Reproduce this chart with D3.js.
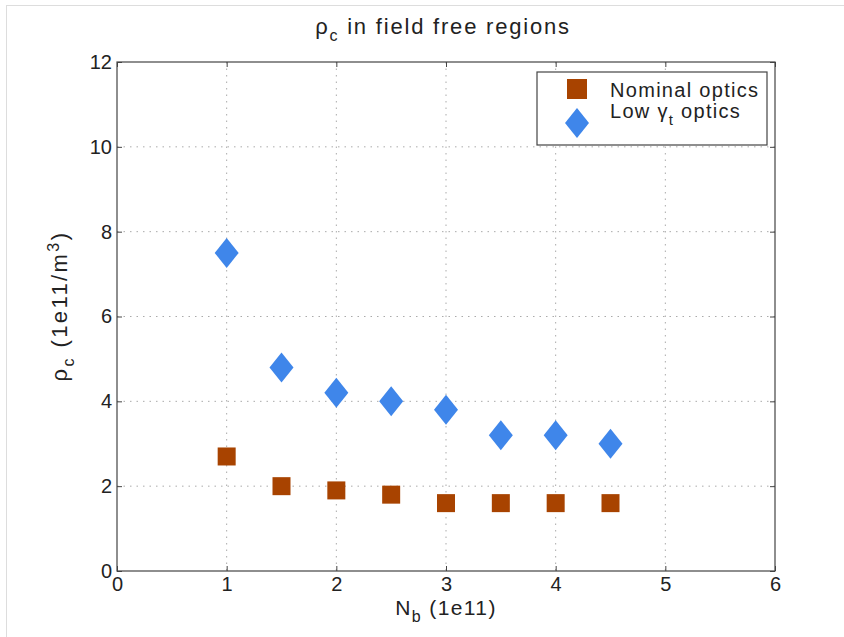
<!DOCTYPE html>
<html>
<head>
<meta charset="utf-8">
<script src="https://cdn.jsdelivr.net/npm/d3@7"></script>
<style>
  body { margin: 0; background: #fff; }
  text { font-family: "Liberation Sans", Arial, sans-serif; fill: #222; }
</style>
</head>
<body>
<svg id="chart" width="844" height="637"></svg>
<script>
// bunch intensity (1e11)
const nb = [1, 1.5, 2, 2.5, 3, 3.5, 4, 4.5];
// rho_c values (1e11/m^3)
const nominal = [2.7, 2.0, 1.9, 1.8, 1.6, 1.6, 1.6, 1.6];
const lowGammaT = [7.5, 4.8, 4.2, 4.0, 3.8, 3.2, 3.2, 3.0];
const xTicks = [0, 1, 2, 3, 4, 5, 6];
const yTicks = [0, 2, 4, 6, 8, 10, 12];

const svg = d3.select("#chart");
const margin = {top: 62, right: 69, bottom: 66, left: 117};
const width = 844 - margin.left - margin.right,
      height = 637 - margin.top - margin.bottom;

// frame lines of the figure
svg.append("line").attr("x1", 6.5).attr("x2", 6.5).attr("y1", 5).attr("y2", 637)
  .attr("stroke", "#ddd");
svg.append("line").attr("x1", 6).attr("x2", 844).attr("y1", 5.5).attr("y2", 5.5)
  .attr("stroke", "#ddd");

const g = svg.append("g").attr("transform", `translate(${margin.left},${margin.top})`);

const x = d3.scaleLinear().domain([0, 6]).range([0, width]);
const y = d3.scaleLinear().domain([0, 12]).range([height, 0]);

// dotted grid
g.append("g").selectAll("line").data(xTicks.slice(1, -1)).join("line")
  .attr("x1", d => x(d)).attr("x2", d => x(d)).attr("y1", 0).attr("y2", height)
  .attr("stroke", "#aaa").attr("stroke-dasharray", "1.5,5");
g.append("g").selectAll("line").data(yTicks.slice(1, -1)).join("line")
  .attr("y1", d => y(d)).attr("y2", d => y(d)).attr("x1", 0).attr("x2", width)
  .attr("stroke", "#aaa").attr("stroke-dasharray", "1.5,5");

// axes, ticks inward, mirrored on top / right
const styleAxis = sel => {
  sel.select(".domain").remove();
  sel.selectAll("line").attr("stroke", "#444");
  sel.selectAll("text").style("font-size", "20px").attr("fill", "#222");
};
g.append("g").attr("transform", `translate(0,${height})`)
  .call(d3.axisBottom(x).tickValues(xTicks).tickFormat(d3.format("d")).tickSizeInner(-5).tickPadding(6))
  .call(styleAxis);
g.append("g")
  .call(d3.axisTop(x).tickValues(xTicks).tickFormat("").tickSizeInner(-5))
  .call(styleAxis);
g.append("g")
  .call(d3.axisLeft(y).tickValues(yTicks).tickFormat(d3.format("d")).tickSizeInner(-5).tickPadding(5))
  .call(styleAxis);
g.append("g").attr("transform", `translate(${width},0)`)
  .call(d3.axisRight(y).tickValues(yTicks).tickFormat("").tickSizeInner(-5))
  .call(styleAxis);

g.append("rect").attr("width", width).attr("height", height)
  .attr("fill", "none").attr("stroke", "#444").attr("stroke-width", 1.2);

// markers
const sq = 18;
g.append("g").selectAll("rect").data(nb).join("rect")
  .attr("x", d => x(d) - sq / 2)
  .attr("y", (d, i) => y(nominal[i]) - sq / 2)
  .attr("width", sq).attr("height", sq)
  .attr("fill", "#a84300");

const diamond = (cx, cy) => `M${cx},${cy - 15}L${cx + 12},${cy}L${cx},${cy + 15}L${cx - 12},${cy}Z`;
g.append("g").selectAll("path").data(nb).join("path")
  .attr("d", (d, i) => diamond(x(d), y(lowGammaT[i])))
  .attr("fill", "#3f86ea");

// legend
const lg = g.append("g").attr("transform", `translate(${420},${10})`);
lg.append("rect").attr("width", 230).attr("height", 73)
  .attr("fill", "#fff").attr("stroke", "#444").attr("stroke-width", 1.2);
const lsq = 20;
lg.append("rect").attr("x", 40 - lsq / 2).attr("y", 17 - lsq / 2).attr("width", lsq).attr("height", lsq)
  .attr("fill", "#a84300");
lg.append("path").attr("d", diamond(40, 51)).attr("fill", "#3f86ea");
lg.append("text").attr("x", 73).attr("y", 25).style("font-size", "20px")
  .style("letter-spacing", "1.3px").text("Nominal optics");
const t2 = lg.append("text").attr("x", 73).attr("y", 46).style("font-size", "20px")
  .style("letter-spacing", "1.3px");
t2.append("tspan").text("Low ");
t2.append("tspan").text("γ");
t2.append("tspan").attr("dy", 7).style("font-size", "15px").text("t");
t2.append("tspan").attr("dy", -7).text(" optics");

// title
const title = svg.append("text").attr("x", margin.left + width / 2 - 3).attr("y", 34)
  .attr("text-anchor", "middle").style("font-size", "22px").style("letter-spacing", "1.8px");
title.append("tspan").text("ρ");
title.append("tspan").attr("dy", 7).style("font-size", "16px").text("c");
title.append("tspan").attr("dy", -7).text(" in field free regions");

// x label
const xl = svg.append("text").attr("x", margin.left + width / 2).attr("y", 615)
  .attr("text-anchor", "middle").style("font-size", "21px").style("letter-spacing", "1.4px");
xl.append("tspan").text("N");
xl.append("tspan").attr("dy", 7).style("font-size", "16px").text("b");
xl.append("tspan").attr("dy", -7).text(" (1e11)");

// y label
const yl = svg.append("text")
  .attr("transform", `translate(67,306) rotate(-90)`)
  .attr("text-anchor", "middle").style("font-size", "22px").style("letter-spacing", "2.4px");
yl.append("tspan").text("ρ");
yl.append("tspan").attr("dy", 7).style("font-size", "16px").text("c");
yl.append("tspan").attr("dy", -7).text(" (1e11/m");
yl.append("tspan").attr("dy", -8).style("font-size", "16px").text("3");
yl.append("tspan").attr("dy", 8).text(")");
</script>
</body>
</html>
